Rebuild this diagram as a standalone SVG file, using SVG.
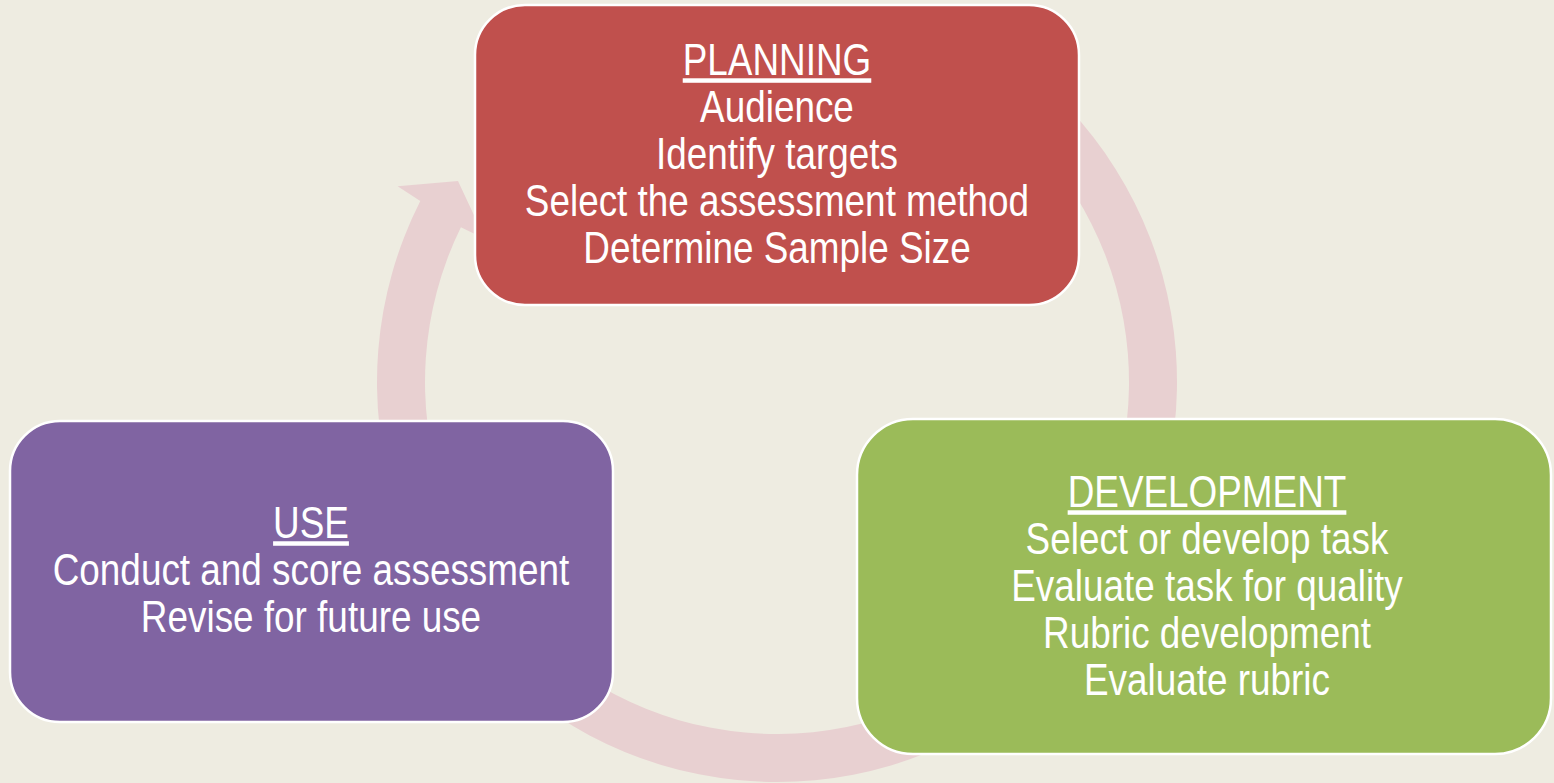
<svg xmlns="http://www.w3.org/2000/svg" width="1554" height="783" viewBox="0 0 1554 783">
<style>
.bg{fill:#EEECE1}
.ring{fill:#E8D0D1}
.box{stroke:#FFFFFF;stroke-width:2.5}
.t{font-family:"Liberation Sans",Arial,sans-serif;font-size:45px;fill:#FFFFFF;text-anchor:middle}
.h{text-decoration:underline}
</style>
<rect class="bg" x="0" y="0" width="1554" height="783"/>
<g id="connectors">
<path class="ring" d="M 977,35.6 A 400 400 0 1 1 420.3,201.0 L 397.6,186.2 L 458.0,181.1 L 485.1,239 L 460.9,227.2 A 352 352 0 1 0 953,77.2 Z"/>
</g>
<g id="planning">
<rect class="box" x="475" y="5" width="604" height="300" rx="50" ry="50" fill="#C0504D"/>
<g transform="translate(777 0) scale(0.82 1)">
<text class="t" x="0" y="75"><tspan class="h">PLANNING</tspan></text>
<text class="t" x="0" y="122">Audience</text>
<text class="t" x="0" y="169">Identify targets</text>
<text class="t" x="0" y="216">Select the assessment method</text>
<text class="t" x="0" y="263">Determine Sample Size</text>
</g>
</g>
<g id="development">
<rect class="box" x="857" y="419" width="694" height="335" rx="56" ry="56" fill="#9BBB59"/>
<g transform="translate(1207 0) scale(0.82 1)">
<text class="t" x="0" y="507"><tspan class="h">DEVELOPMENT</tspan></text>
<text class="t" x="0" y="554">Select or develop task</text>
<text class="t" x="0" y="601">Evaluate task for quality</text>
<text class="t" x="0" y="648">Rubric development</text>
<text class="t" x="0" y="695">Evaluate rubric</text>
</g>
</g>
<g id="use">
<rect class="box" x="10" y="421" width="603" height="301" rx="50" ry="50" fill="#8064A2"/>
<g transform="translate(311 0) scale(0.82 1)">
<text class="t" x="0" y="538"><tspan class="h">USE</tspan></text>
<text class="t" x="0" y="585">Conduct and score assessment</text>
<text class="t" x="0" y="632">Revise for future use</text>
</g>
</g>
</svg>
